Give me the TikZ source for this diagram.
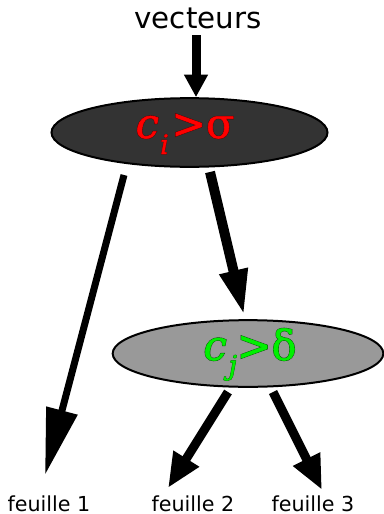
\documentclass[tikz,border=0pt]{standalone}
\usepackage{fontspec}
\setmainfont{DejaVu Sans}
\newfontfamily\condfont[FakeBold=1.2]{DejaVu Serif}
\newfontfamily\condedge[FakeBold=3.2]{DejaVu Serif}
\usetikzlibrary{arrows.meta,shapes.geometric}
\definecolor{nodedark}{HTML}{333333}
\definecolor{nodelight}{HTML}{999999}
\definecolor{condred}{HTML}{FF0000}
\definecolor{condgreen}{HTML}{00F000}
\definecolor{condrededge}{HTML}{5A0000}
\definecolor{condgreenedge}{HTML}{004A00}
\newcommand{\condI}{\textit{c}\kern1pt\raisebox{-12pt}{\fontsize{20pt}{20pt}\selectfont\textit{i}}\kern2pt>σ}
\newcommand{\condJ}{\textit{c}\kern1.5pt\raisebox{-11pt}{\fontsize{20pt}{20pt}\selectfont\textit{j}}>δ}
\begin{document}
\begin{tikzpicture}[x=0.75pt,y=-0.75pt,
  cond/.style={ellipse,draw=black,line width=1.5pt,inner sep=0pt},
  condtext/.style={anchor=base,inner sep=0pt,font=\condfont\fontsize{31pt}{31pt}\selectfont},
  condrim/.style={anchor=base,inner sep=0pt,font=\condedge\fontsize{31pt}{31pt}\selectfont},
  leaf/.style={anchor=base,inner sep=0pt,font=\fontsize{15.5pt}{15.5pt}\selectfont},
  shaft/.style={line width=#1,draw=black}]
\useasboundingbox (0,0) rectangle (384,514);

% input label
\node[anchor=base,inner sep=0pt,font=\fontsize{22pt}{22pt}\selectfont] (vec) at (198,28) {vecteurs};

% decision nodes
\node[cond,fill=nodedark,minimum width=207pt,minimum height=51.5pt] (e1) at (189.5,132.5) {};
\node[cond,fill=nodelight,minimum width=203pt,minimum height=50pt] (e2) at (248,353.5) {};

% conditions: a dark rim underneath, the coloured glyphs on top
\node[condrim,text=condrededge] (t1rim) at (185,138) {\condI};
\node[condtext,text=condred] (t1) at (185,138) {\condI};
\node[condrim,text=condgreenedge] (t2rim) at (250,360) {\condJ};
\node[condtext,text=condgreen] (t2) at (250,360) {\condJ};

% leaves
\node[leaf] (f1) at (49,511) {feuille 1};
\node[leaf] (f2) at (193,511) {feuille 2};
\node[leaf] (f3) at (313,511) {feuille 3};

% connector end points
\coordinate (vs) at (196,35);
\coordinate (a1s) at (124,175);
\coordinate (a1e) at (45,475);
\coordinate (a2s) at (210,172);
\coordinate (a2e) at (244,315);
\coordinate (a3s) at (228,392);
\coordinate (a3e) at (168,488);
\coordinate (a4s) at (273,392);
\coordinate (a4e) at (322,490);

% connectors
\draw[shaft=6.75pt,-{Triangle[length=17pt,width=17pt]}] (vs) -- (vs |- e1.north);
\draw[shaft=5.25pt,-{Triangle[length=50pt,width=23pt]}] (a1s) -- (a1e);
\draw[shaft=7.5pt,-{Triangle[length=34pt,width=20pt]}] (a2s) -- (a2e);
\draw[shaft=6.75pt,-{Triangle[length=26pt,width=21pt]}] (a3s) -- (a3e);
\draw[shaft=6.75pt,-{Triangle[length=26pt,width=21pt]}] (a4s) -- (a4e);
\end{tikzpicture}
\end{document}
